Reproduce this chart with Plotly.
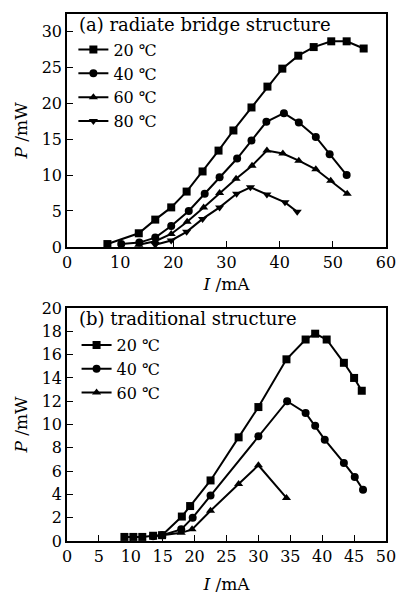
import plotly.graph_objects as go
from plotly.subplots import make_subplots

# (a) radiate bridge structure
a_labels = ["20 ℃", "40 ℃", "60 ℃", "80 ℃"]
a20_x = [7.6, 13.5, 16.6, 19.6, 22.5, 25.5, 28.5, 31.3, 34.7, 37.7, 40.5, 43.5, 46.4, 49.7, 52.6, 55.8]
a20_y = [0.4, 1.9, 3.8, 5.5, 7.7, 10.5, 13.4, 16.2, 19.4, 22.3, 24.8, 26.6, 27.8, 28.6, 28.6, 27.6]
a40_x = [10.2, 13.6, 16.6, 19.6, 22.9, 25.9, 28.7, 32.0, 34.7, 37.5, 40.8, 43.6, 46.8, 49.4, 52.6]
a40_y = [0.4, 0.6, 1.3, 2.9, 5.0, 7.4, 9.7, 12.3, 14.8, 17.4, 18.6, 17.3, 15.3, 12.9, 10.0]
a60_x = [13.5, 16.6, 19.6, 22.6, 25.7, 28.7, 31.8, 34.8, 37.6, 40.6, 43.6, 46.8, 49.6, 52.7]
a60_y = [0.3, 0.8, 1.8, 3.5, 5.5, 7.5, 9.5, 11.3, 13.4, 13.0, 12.0, 10.8, 9.2, 7.4]
a80_x = [16.6, 19.6, 22.5, 25.5, 28.7, 31.9, 34.5, 37.6, 41.0, 43.3]
a80_y = [0.3, 0.9, 2.1, 3.9, 5.5, 7.4, 8.3, 7.3, 6.2, 4.9]

# (b) traditional structure
b_labels = ["20 ℃", "40 ℃", "60 ℃"]
b20_x = [9.0, 10.4, 11.8, 13.5, 14.9, 18.0, 19.3, 22.5, 26.9, 30.0, 34.4, 37.4, 38.9, 40.7, 43.4, 45.0, 46.2]
b20_y = [0.35, 0.35, 0.35, 0.45, 0.5, 2.1, 3.0, 5.2, 8.9, 11.5, 15.6, 17.3, 17.8, 17.3, 15.3, 14.0, 12.9]
b40_x = [13.5, 14.9, 17.9, 19.7, 22.5, 30.0, 34.5, 37.4, 38.9, 40.4, 43.4, 45.1, 46.4]
b40_y = [0.4, 0.5, 1.0, 2.0, 3.9, 9.0, 12.0, 11.0, 9.9, 8.7, 6.7, 5.5, 4.4]
b60_x = [14.9, 17.9, 19.6, 22.5, 26.9, 30.0, 34.4]
b60_y = [0.5, 0.7, 1.0, 2.6, 4.9, 6.5, 3.7]

FONT = "DejaVu Serif"

fig = make_subplots(rows=2, cols=1, vertical_spacing=0.116)

sym_a = ["square", "circle", "triangle-up", "triangle-down"]
for lab, xs, ys, s in zip(a_labels, [a20_x, a40_x, a60_x, a80_x], [a20_y, a40_y, a60_y, a80_y], sym_a):
    fig.add_trace(go.Scatter(x=xs, y=ys, name=lab, mode="lines+markers",
                             line=dict(color="black", width=2),
                             marker=dict(symbol=s, size=8, color="black"),
                             legend="legend"), row=1, col=1)

sym_b = ["square", "circle", "triangle-up"]
for lab, xs, ys, s in zip(b_labels, [b20_x, b40_x, b60_x], [b20_y, b40_y, b60_y], sym_b):
    fig.add_trace(go.Scatter(x=xs, y=ys, name=lab, mode="lines+markers",
                             line=dict(color="black", width=2),
                             marker=dict(symbol=s, size=8, color="black"),
                             legend="legend2"), row=2, col=1)

axis_common = dict(showline=True, linecolor="black", linewidth=1.5, mirror=True,
                   ticks="inside", ticklen=6, tickcolor="black", tickwidth=1.2,
                   showgrid=False, zeroline=False,
                   tickfont=dict(family=FONT, size=16, color="black"))

fig.update_xaxes(**axis_common)
fig.update_yaxes(**axis_common)

title_font = dict(family=FONT, size=17, color="black")
fig.update_xaxes(range=[0, 60], dtick=10, row=1, col=1,
                 title=dict(text="<i>I</i> /mA", font=title_font, standoff=7))
fig.update_yaxes(range=[0, 32.4], dtick=5, row=1, col=1,
                 title=dict(text="<i>P</i> /mW", font=title_font, standoff=10))
fig.update_xaxes(range=[0, 50], dtick=5, row=2, col=1,
                 title=dict(text="<i>I</i> /mA", font=title_font, standoff=13))
fig.update_yaxes(range=[0, 20], dtick=2, row=2, col=1,
                 title=dict(text="<i>P</i> /mW", font=title_font, standoff=10))

legend_common = dict(bgcolor="rgba(0,0,0,0)", borderwidth=0,
                     font=dict(family=FONT, size=16, color="black"),
                     tracegroupgap=0, itemwidth=30, xanchor="left", yanchor="top")

fig.update_layout(
    width=406, height=597,
    margin=dict(l=67, r=20, t=5, b=56),
    paper_bgcolor="white", plot_bgcolor="white",
    showlegend=True,
    legend=dict(x=0.02, y=0.9646, **legend_common),
    legend2=dict(x=0.03, y=0.404, **legend_common),
    annotations=[
        dict(text="(a) radiate bridge structure", xref="x domain", yref="y domain",
             x=0.03, y=1.01, xanchor="left", yanchor="top", showarrow=False,
             font=dict(family=FONT, size=18, color="black")),
        dict(text="(b) traditional structure", xref="x2 domain", yref="y2 domain",
             x=0.03, y=1.01, xanchor="left", yanchor="top", showarrow=False,
             font=dict(family=FONT, size=18, color="black")),
    ],
)

fig.write_html("out.html")
